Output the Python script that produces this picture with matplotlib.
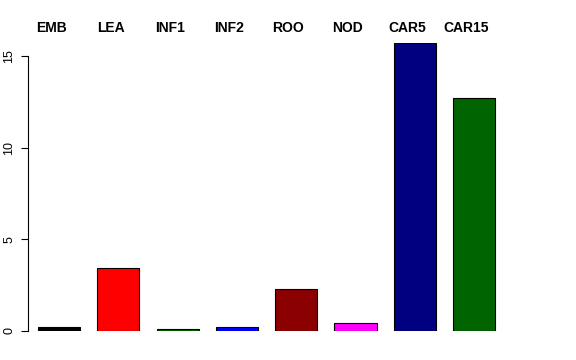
import matplotlib
matplotlib.use("Agg")
import matplotlib.pyplot as plt
import numpy as np

plt.rcParams['font.family'] = ['Liberation Sans', 'DejaVu Sans']

tissues = ['EMB', 'LEA', 'INF1', 'INF2', 'ROO', 'NOD', 'CAR5', 'CAR15']
values = [0.22, 3.43, 0.09, 0.24, 2.27, 0.42, 15.7, 12.7]
colors = ['black', 'red', '#006400', 'blue', '#8B0000', 'magenta', '#000080', '#006400']

W, H = 576, 360
fig = plt.figure(figsize=(W / 100, H / 100), dpi=100)
# axes placed in pixel terms: y=0 at 331px, y=15.7 at 43px
ax = fig.add_axes([28 / W, (H - 331) / H, (520 - 28) / W, (331 - 43) / H])

x = np.arange(len(tissues))
ax.bar(x, values, width=0.71, color=colors, edgecolor='black', linewidth=0.8)

ax.set_ylim(0, 15.7)
step = 59.3
ax.set_xlim(-(59 - 28) / step, (520 - 59) / step)

for s in ['top', 'right', 'bottom']:
    ax.spines[s].set_visible(False)
ax.spines['left'].set_bounds(0, 15)
ax.spines['left'].set_linewidth(0.8)
ax.set_xticks([])
ax.set_yticks([0, 5, 10, 15])
ax.set_yticklabels(['0', '5', '10', '15'], rotation=90, va='center', fontsize=9)
ax.tick_params(axis='y', length=5, width=0.8, pad=4)

for xi, name in zip(x, tissues):
    ax.text(xi - 0.13, 1.0 + 15 / 288, name, transform=ax.get_xaxis_transform(),
            ha='center', va='center', fontsize=10, fontweight='bold')

fig.savefig('out.png', dpi=100)
